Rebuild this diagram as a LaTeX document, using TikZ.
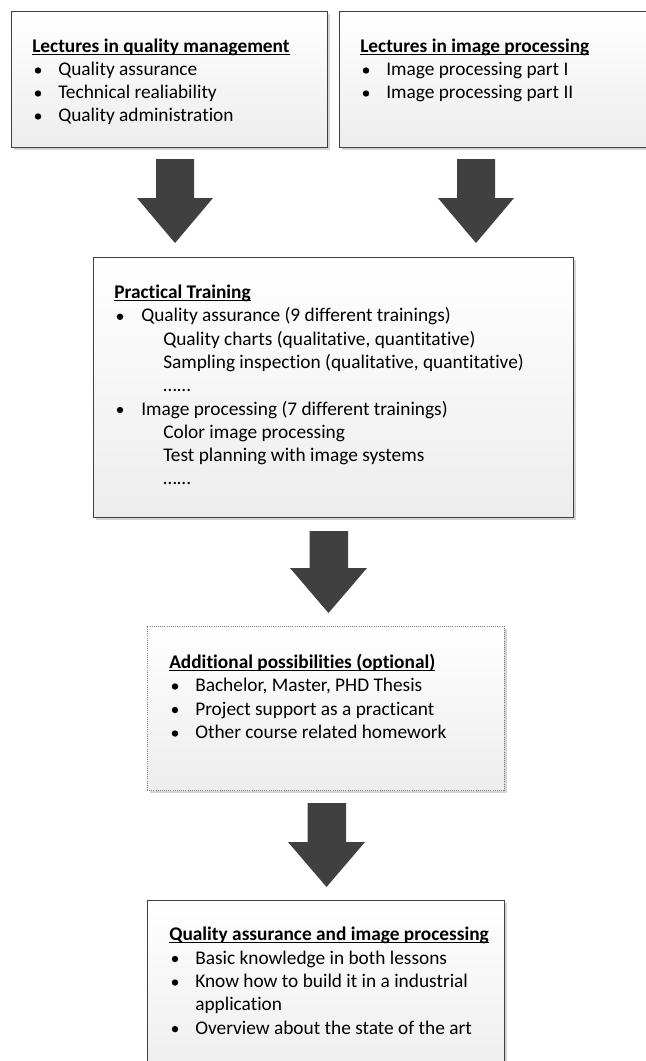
\documentclass[tikz,border=0pt]{standalone}
\usepackage{fontspec}
\setmainfont{Carlito}[Ligatures={NoCommon,NoContextual}]
\usetikzlibrary{shadows}
\definecolor{arrowc}{HTML}{404040}
\definecolor{edgec}{HTML}{3F3F3F}
\definecolor{shadowc}{HTML}{D4D4D4}
\definecolor{boxbot}{HTML}{EDEDED}
\newcommand\ulbf[1]{\setbox0\hbox{\bfseries #1}\rlap{\rule[-1.8pt]{\wd0}{0.8pt}}\box0}
\tikzset{
  box/.style={rectangle, draw=edgec, line width=0.75pt, top color=white, bottom color=boxbot,
    inner sep=0pt, drop shadow={shadow xshift=2.25pt, shadow yshift=-2.25pt, fill=shadowc, opacity=1}},
  dotbox/.style={rectangle, draw=gray, densely dotted, line width=0.6pt, top color=white, bottom color=boxbot,
    inner sep=0pt, drop shadow={shadow xshift=2.25pt, shadow yshift=-2.25pt, fill=shadowc, opacity=1}},
  txt/.style={anchor=base west, inner sep=0pt, font=\fontsize{14.5pt}{17pt}\selectfont, text=black},
  bul/.style={circle, fill=black, inner sep=0pt, minimum size=4.8pt},
  blockarrow/.style={fill=arrowc},
}
\begin{document}
\begin{tikzpicture}[x=0.75pt,y=-0.75pt]
\clip (0,0) rectangle (646,1061);
\fill[white] (0,0) rectangle (646,1061);
% boxes
\node[box, minimum width=237pt, minimum height=102pt] (b1) at (169,79) {};
\node[box, minimum width=240.75pt, minimum height=102pt] (b2) at (499.5,79) {};
\node[box, minimum width=360pt, minimum height=195pt] (b3) at (333,387) {};
\node[dotbox, minimum width=267.75pt, minimum height=123pt] (b4) at (325.5,708) {};
\node[box, minimum width=267.75pt, minimum height=135pt] (b5) at (325.5,990) {};
% arrows
\fill[blockarrow] (156,159) -- (194,159) -- (194,198) -- (213,198) -- (175,243) -- (137,198) -- (156,198) -- cycle;
\fill[blockarrow] (457,159) -- (495,159) -- (495,198) -- (514,198) -- (476,243) -- (438,198) -- (457,198) -- cycle;
\fill[blockarrow] (309.5,531) -- (348,531) -- (348,568) -- (367,568) -- (328.5,613) -- (290,568) -- (309.5,568) -- cycle;
\fill[blockarrow] (307.5,803) -- (346,803) -- (346,842) -- (365,842) -- (326.5,887) -- (288,842) -- (307.5,842) -- cycle;
% box 1
\node[txt] (t1) at (32,52.5) {\ulbf{Lectures in quality management}};
\node[bul] (d11) at (38,70.5) {};
\node[txt] (t11) at (58,75.5) {Quality assurance};
\node[bul] (d12) at (38,93.5) {};
\node[txt] (t12) at (58,98.5) {Technical realiability};
\node[bul] (d13) at (38,116.5) {};
\node[txt] (t13) at (58,121.5) {Quality administration};
% box 2
\node[txt] (t2) at (360,52.5) {\ulbf{Lectures in image processing}};
\node[bul] (d21) at (366,70.5) {};
\node[txt] (t21) at (386,75.5) {Image processing part I};
\node[bul] (d22) at (366,93.5) {};
\node[txt] (t22) at (386,98.5) {Image processing part II};
% box 3
\node[txt] (t3) at (114,298.5) {\ulbf{Practical Training}};
\node[bul] (d31) at (120,316.8) {};
\node[txt] (t31) at (141,321.8) {Quality assurance (9 different trainings)};
\node[txt] (t32) at (163,345.1) {Quality charts (qualitative, quantitative)};
\node[txt] (t33) at (163,368.4) {Sampling inspection (qualitative, quantitative)};
\node[txt] (t34) at (163,391.7) {…...};
\node[bul] (d35) at (120,410) {};
\node[txt] (t35) at (141,415) {Image processing (7 different trainings)};
\node[txt] (t36) at (163,438.3) {Color image processing};
\node[txt] (t37) at (163,461.6) {Test planning with image systems};
\node[txt] (t38) at (163,484.9) {…...};
% box 4
\node[txt] (t4) at (169,668.5) {\ulbf{Additional possibilities (optional)}};
\node[bul] (d41) at (175,686.5) {};
\node[txt] (t41) at (195,691.5) {Bachelor, Master, PHD Thesis};
\node[bul] (d42) at (175,710) {};
\node[txt] (t42) at (195,715) {Project support as a practicant};
\node[bul] (d43) at (175,733.5) {};
\node[txt] (t43) at (195,738.5) {Other course related homework};
% box 5
\node[txt] (t5) at (169,940.5) {\ulbf{Quality assurance and image processing}};
\node[bul] (d51) at (175,959) {};
\node[txt] (t51) at (195,964) {Basic knowledge in both lessons};
\node[bul] (d52) at (175,982.5) {};
\node[txt] (t52) at (195,987.5) {Know how to build it in a industrial};
\node[txt] (t53) at (195,1010.8) {application};
\node[bul] (d54) at (175,1029.1) {};
\node[txt] (t54) at (195,1034.1) {Overview about the state of the art};
\end{tikzpicture}
\end{document}
